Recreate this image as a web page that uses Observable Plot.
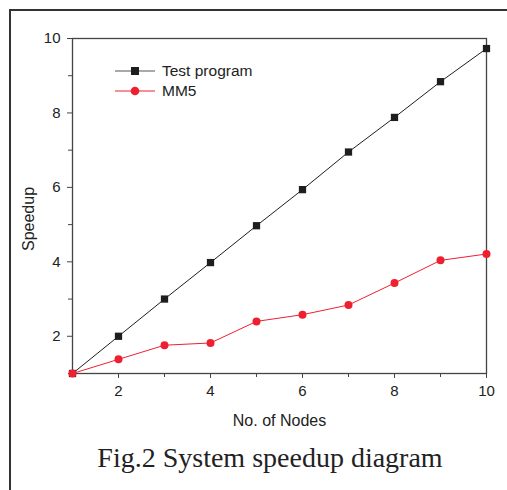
<!DOCTYPE html>
<html>
<head>
<meta charset="utf-8">
<script src="https://cdn.jsdelivr.net/npm/d3@7"></script>
<script src="https://cdn.jsdelivr.net/npm/@observablehq/plot@0.6"></script>
<style>
  html, body { margin: 0; padding: 0; background: #fff; }
  body { width: 507px; height: 490px; overflow: hidden; position: relative;
         font-family: "Liberation Sans", Arial, sans-serif; }
  #frame { position: absolute; left: 9px; top: 9px; width: 498px; height: 481px;
           border-left: 2px solid #333; border-top: 2px solid #333; box-sizing: border-box; }
  #chart { position: absolute; left: 0; top: 0; }
  #caption { position: absolute; left: 0; top: 444px; width: 540px; text-align: center;
             font-family: "Liberation Serif", "Times New Roman", serif; font-size: 28px;
             line-height: 28px; color: #222; white-space: nowrap; }
  #legend { position: absolute; left: 113px; top: 61px; font-size: 15.5px; color: #222; }
  #legend .row { display: flex; align-items: center; height: 20px; }
  #legend svg { display: block; margin-right: 5px; }
</style>
</head>
<body>
<div id="frame"></div>
<div id="chart"></div>
<div id="legend"></div>
<div id="caption"></div>
<script>
// ---- data ----
const nodes = [1, 2, 3, 4, 5, 6, 7, 8, 9, 10];
const testProgram = [1.0, 2.0, 3.0, 3.98, 4.97, 5.94, 6.95, 7.88, 8.84, 9.73];
const mm5 = [1.0, 1.38, 1.76, 1.82, 2.40, 2.58, 2.84, 3.43, 4.04, 4.21];
const seriesNames = ["Test program", "MM5"];
const seriesColors = ["#1e1e1e", "#ee2030"];
const majorTicks = [2, 4, 6, 8, 10];
const minorTicks = [1, 3, 5, 7, 9];
const xLabel = "No. of Nodes";
const yLabel = "Speedup";
const caption = "Fig.2 System speedup diagram";

const testRows = nodes.map((n, i) => ({n, v: testProgram[i]}));
const mm5Rows = nodes.map((n, i) => ({n, v: mm5[i]}));

const chart = Plot.plot({
  width: 507,
  height: 440,
  marginLeft: 72,
  marginRight: 21,
  marginTop: 38,
  marginBottom: 67,
  style: {fontFamily: "Liberation Sans, Arial, sans-serif", fontSize: "15px", color: "#222", background: "transparent", overflow: "visible"},
  x: {domain: [1, 10]},
  y: {domain: [1, 10]},
  marks: [
    Plot.frame({stroke: "#444", strokeWidth: 1.3}),
    Plot.axisX(majorTicks, {tickSize: 5, tickPadding: 7, label: null, stroke: "#444"}),
    Plot.axisX(minorTicks, {tickSize: 4, text: null, label: null, stroke: "#444"}),
    Plot.axisY(majorTicks, {tickSize: 5, tickPadding: 7, label: null, stroke: "#444"}),
    Plot.axisY(minorTicks, {tickSize: 4, text: null, label: null, stroke: "#444"}),
    Plot.text([xLabel], {frameAnchor: "bottom", dy: 52, lineAnchor: "bottom", textAnchor: "middle", fontSize: 16, fill: "#222"}),
    Plot.text([yLabel], {frameAnchor: "left", rotate: -90, dx: -50, dy: 13, lineAnchor: "top", textAnchor: "middle", fontSize: 16, fill: "#222"}),
    Plot.line(testRows, {x: "n", y: "v", stroke: seriesColors[0], strokeWidth: 1}),
    Plot.line(mm5Rows, {x: "n", y: "v", stroke: seriesColors[1], strokeWidth: 1}),
    Plot.dot(testRows, {x: "n", y: "v", symbol: "square", fill: seriesColors[0], r: 4.1}),
    Plot.dot(mm5Rows, {x: "n", y: "v", symbol: "circle", fill: seriesColors[1], r: 4})
  ]
});
document.getElementById("chart").appendChild(chart);

// legend
const legend = d3.select("#legend");
seriesNames.forEach((name, i) => {
  const row = legend.append("div").attr("class", "row");
  const svg = row.append("svg").attr("width", 44).attr("height", 20);
  svg.append("line").attr("x1", 2).attr("x2", 42).attr("y1", 10).attr("y2", 10)
     .attr("stroke", i === 0 ? "#555" : seriesColors[i]).attr("stroke-width", 1.2);
  if (i === 0) {
    svg.append("rect").attr("x", 18).attr("y", 6).attr("width", 8).attr("height", 8).attr("fill", seriesColors[i]);
  } else {
    svg.append("circle").attr("cx", 22).attr("cy", 10).attr("r", 4.3).attr("fill", seriesColors[i]);
  }
  row.append("span").text(name);
});

document.getElementById("caption").textContent = caption;
</script>
</body>
</html>
